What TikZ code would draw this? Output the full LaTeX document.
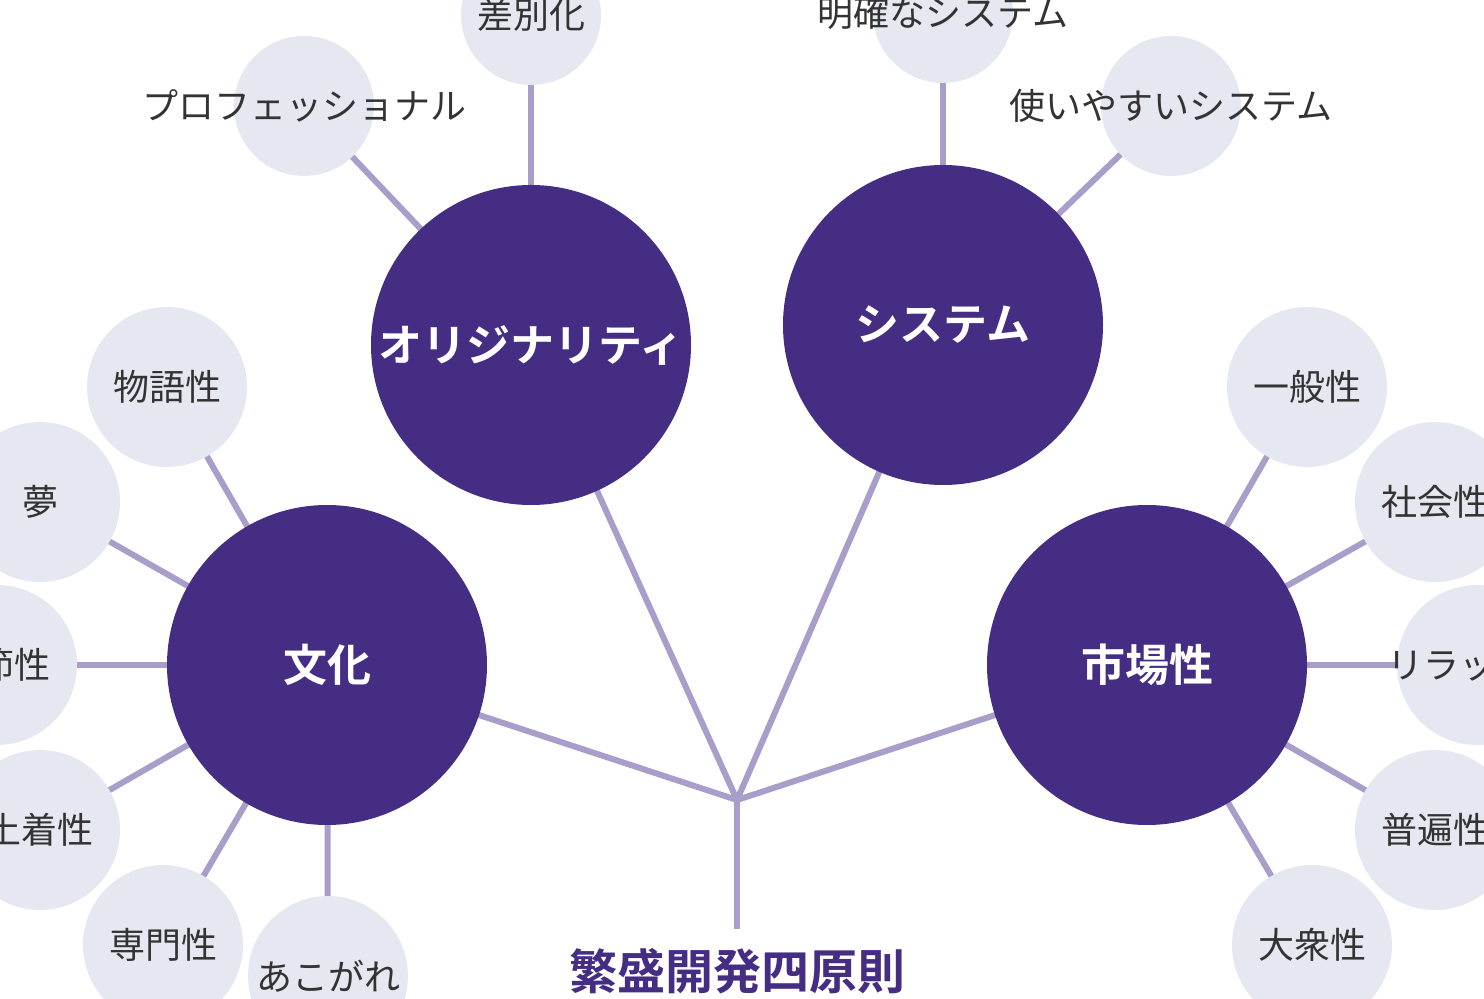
\documentclass[tikz,border=0pt]{standalone}
\usepackage{fontspec}
\setmainfont{Noto Sans CJK JP}[BoldFont={Noto Sans CJK JP Bold}]
\usetikzlibrary{backgrounds}
\definecolor{deep}{HTML}{452D84}
\definecolor{lilac}{HTML}{A99DC9}
\definecolor{mist}{HTML}{E5E8F0}
\definecolor{ink}{HTML}{333333}

\begin{document}
\begin{tikzpicture}[x=0.5pt,y=-0.5pt,
mainnode/.style={circle, fill=deep, minimum size=160pt, inner sep=0pt, outer sep=0pt, text=white, font=\bfseries\fontsize{22}{22}\selectfont},
subnode/.style={circle, fill=mist, minimum size=80pt, inner sep=0pt, outer sep=0pt, text=ink, font=\fontsize{18}{18}\selectfont},
smallnode/.style={subnode, minimum size=70pt},
titlenode/.style={text=deep, font=\bfseries\fontsize{24}{24}\selectfont},
link/.style={draw=lilac, line width=3pt, line cap=round},
]
\useasboundingbox (0,0) rectangle (1484,999);

%Nodes
\coordinate (hub) at (737,800);
\coordinate (stem) at (737,929);
\node[titlenode] (title) at (737,971) {繁盛開発四原則};

\node[mainnode] (bunka)  at (327,665)  {文化};
\node[mainnode] (orig)   at (531,345)  {オリジナリティ};
\node[mainnode] (system) at (943,325)  {システム};
\node[mainnode] (market) at (1147,665) {市場性};

\node[subnode] (story)   at (167,387) {物語性};
\node[subnode] (dream)   at (40,502)  {夢};
\node[subnode] (season)  at (-3,665)  {季節性};
\node[subnode] (native)  at (40,830)  {土着性};
\node[subnode] (expert)  at (163,945) {専門性};
\node[subnode] (longing) at (328,976) {あこがれ};

\node[smallnode] (pro)  at (304,106) {\makebox[0pt]{プロフェッショナル}};
\node[smallnode] (diff) at (531,15)  {差別化};

\node[smallnode] (clear)  at (943,13)   {\makebox[0pt]{明確なシステム}};
\node[smallnode] (usable) at (1171,106) {\makebox[0pt]{使いやすいシステム}};

\node[subnode] (general)   at (1307,387) {一般性};
\node[subnode] (social)    at (1435,502) {社会性};
\node[subnode] (relax)     at (1477,665) {\makebox[0pt]{リラックス}};
\node[subnode] (universal) at (1435,830) {普遍性};
\node[subnode] (mass)      at (1312,945) {大衆性};

%Lines
\begin{pgfonlayer}{background}
\draw[link] (hub) -- (bunka);
\draw[link] (hub) -- (orig);
\draw[link] (hub) -- (system);
\draw[link] (hub) -- (market);
\draw[link, line cap=butt] (hub) -- (stem);

\foreach \s in {story,dream,season,native,expert,longing}
  \draw[link] (bunka) -- (\s);
\foreach \s in {pro,diff}
  \draw[link] (orig) -- (\s);
\foreach \s in {clear,usable}
  \draw[link] (system) -- (\s);
\foreach \s in {general,social,relax,universal,mass}
  \draw[link] (market) -- (\s);
\end{pgfonlayer}
\end{tikzpicture}
\end{document}
